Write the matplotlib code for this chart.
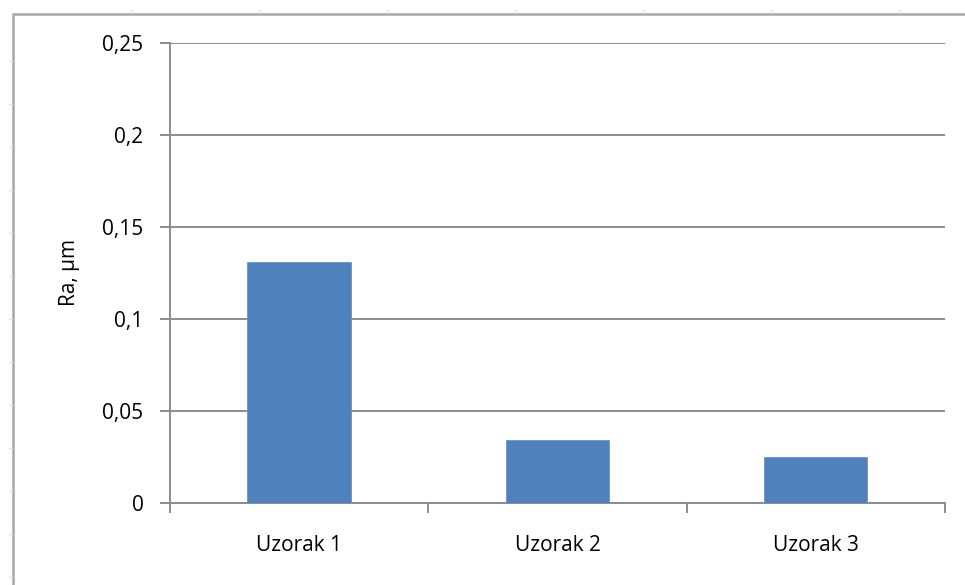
import numpy as np
import matplotlib.pyplot as plt
from matplotlib.patches import Rectangle
from matplotlib.lines import Line2D

# podaci
uzorci = ['Uzorak 1', 'Uzorak 2', 'Uzorak 3']
ra = [0.131, 0.034, 0.025]
y_ticks = [0, 0.05, 0.1, 0.15, 0.2, 0.25]
y_labels = ['0', '0,05', '0,1', '0,15', '0,2', '0,25']

plt.rcParams['font.family'] = ['Open Sans', 'DejaVu Sans']
siva = '#8c8c8c'
W, H = 965, 585

fig = plt.figure(figsize=(W / 100, H / 100), dpi=100)
ax = fig.add_axes([170/W, 82/H, 775/W, 460/H])

# okvir grafikona (rub lista)
fig.patches.append(Rectangle((13/W, -0.05), 1.2, (H-14)/H + 0.05,
                             transform=fig.transFigure, fill=False,
                             edgecolor='#a6a6a6', lw=1.8))
# sitne oznake celija iz tablice
for px in range(131, W, 128):
    fig.add_artist(Line2D([px/W, px/W], [(H-10)/H, (H-13)/H],
                          transform=fig.transFigure, color='#dfe3ec', lw=1))
for py in range(61, H, 43):
    fig.add_artist(Line2D([9/W, 12/W], [(H-py)/H, (H-py)/H],
                          transform=fig.transFigure, color='#dfe3ec', lw=1))

x = np.arange(len(uzorci))
ax.bar(x, ra, width=0.4, color='#4f81bd', edgecolor='#6a93c6', lw=0.6, zorder=3)

ax.set_ylim(0, 0.25)
ax.set_yticks(y_ticks)
ax.set_yticklabels(y_labels, fontsize=15)
ax.yaxis.grid(True, color=siva, lw=1.4)
ax.set_axisbelow(True)

ax.set_xlim(-0.5, 2.5)
ax.set_xticks([-0.5, 0.5, 1.5, 2.5])
ax.set_xticklabels([])
ax.set_xticks(x, minor=True)
ax.set_xticklabels(uzorci, minor=True, fontsize=15)
ax.tick_params(axis='x', which='minor', length=0, pad=23)
ax.tick_params(axis='both', which='major', length=7, width=1.4, color=siva)
ax.tick_params(axis='y', pad=12)

for s in ['top', 'right']:
    ax.spines[s].set_visible(False)
for s in ['left', 'bottom']:
    ax.spines[s].set_color(siva)
    ax.spines[s].set_linewidth(1.4)

ax.set_ylabel('Ra, µm', fontsize=15, labelpad=16)

plt.savefig('out.png', dpi=100)
